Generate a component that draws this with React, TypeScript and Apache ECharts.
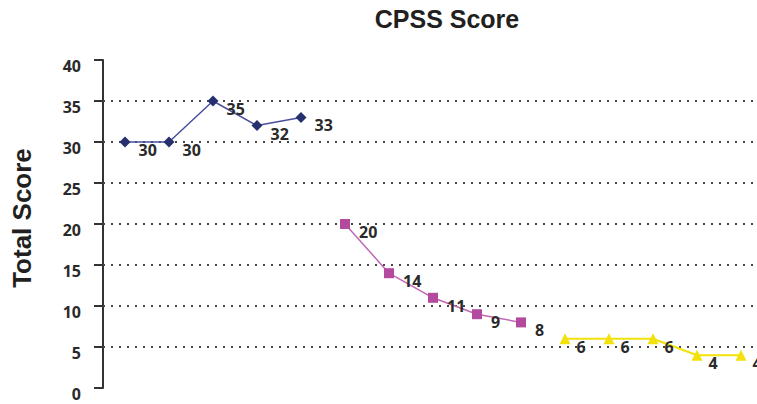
import React, { useEffect, useRef } from "react";
import * as echarts from "echarts";

const sessions = ["1", "2", "3", "4", "5", "6", "7", "8", "9", "10", "11", "12", "13", "14", "15"];
const phaseA = [30, 30, 35, 32, 33, null, null, null, null, null, null, null, null, null, null];
const phaseB = [null, null, null, null, null, 20, 14, 11, 9, 8, null, null, null, null, null];
const phaseC = [null, null, null, null, null, null, null, null, null, null, 6, 6, 6, 4, 4];
const gridValues = [5, 10, 15, 20, 25, 30, 35];

const labelFont = "'Open Sans', 'DejaVu Sans', sans-serif";

export default function App() {
  const ref = useRef<HTMLDivElement>(null);
  useEffect(() => {
    if (!ref.current) return;
    const chart = echarts.init(ref.current, null, { renderer: "svg" });
    const mkLabel = (dx: number) => ({
      show: true,
      position: "right" as const,
      distance: dx,
      offset: [0, 8],
      color: "#2a2a2a",
      fontFamily: labelFont,
      fontWeight: "bold" as const,
      fontSize: 16,
    });
    chart.setOption({
      animation: false,
      backgroundColor: "#ffffff",
      title: {
        text: "CPSS Score",
        left: 442,
        top: 1,
        textAlign: "center",
        textStyle: {
          fontFamily: "'Liberation Sans', Arial, sans-serif",
          fontWeight: "bold",
          fontSize: 25,
          color: "#231f20",
        },
      },
      grid: {
        left: 103,
        top: 60,
        width: 660,
        height: 328,
        containLabel: false,
        outerBoundsMode: "none",
      },
      xAxis: {
        type: "category",
        data: sessions,
        boundaryGap: true,
        axisLine: { show: false },
        axisTick: { show: false },
        axisLabel: { show: false },
        splitLine: { show: false },
      },
      yAxis: {
        type: "value",
        min: 0,
        max: 40,
        interval: 5,
        name: "Total Score",
        nameLocation: "middle",
        nameGap: 68,
        nameTextStyle: {
          fontFamily: "'Liberation Sans', Arial, sans-serif",
          fontWeight: "bold",
          fontSize: 26,
          color: "#231f20",
          padding: [0, 0, 0, 12],
        },
        axisLine: { show: true, lineStyle: { color: "#333", width: 2 } },
        axisTick: { show: true, length: 9, lineStyle: { color: "#333", width: 2 } },
        axisLabel: {
          margin: 22,
          verticalAlign: "top",
          color: "#2a2a2a",
          fontFamily: labelFont,
          fontWeight: "bold",
          fontSize: 16,
          padding: [-2, 0, 0, 0],
        },
        splitLine: { show: false },
      },
      series: [
        {
          type: "line",
          data: phaseA,
          symbol: "diamond",
          symbolSize: 11,
          itemStyle: { color: "#26306e" },
          lineStyle: { color: "#4a4fa0", width: 1.5 },
          label: mkLabel(8),
          markLine: {
            silent: true,
            symbol: "none",
            label: { show: false },
            lineStyle: { color: "#444", type: [2, 6], width: 2 },
            data: gridValues.map((v) => ({ yAxis: v })),
            z: 1,
          },
        },
        {
          type: "line",
          data: phaseB,
          symbol: "rect",
          symbolSize: 10,
          itemStyle: { color: "#b34a9e" },
          lineStyle: { color: "#c267b3", width: 1.5 },
          label: mkLabel(9),
        },
        {
          type: "line",
          data: phaseC,
          symbol: "triangle",
          symbolSize: 11,
          itemStyle: { color: "#f2e10a" },
          lineStyle: { color: "#f2e10a", width: 2 },
          label: mkLabel(6),
        },
      ],
    });
    return () => chart.dispose();
  }, []);
  return (
    <div
      ref={ref}
      style={{ position: "fixed", left: 0, top: 0, width: 757, height: 404, background: "#fff" }}
    />
  );
}
